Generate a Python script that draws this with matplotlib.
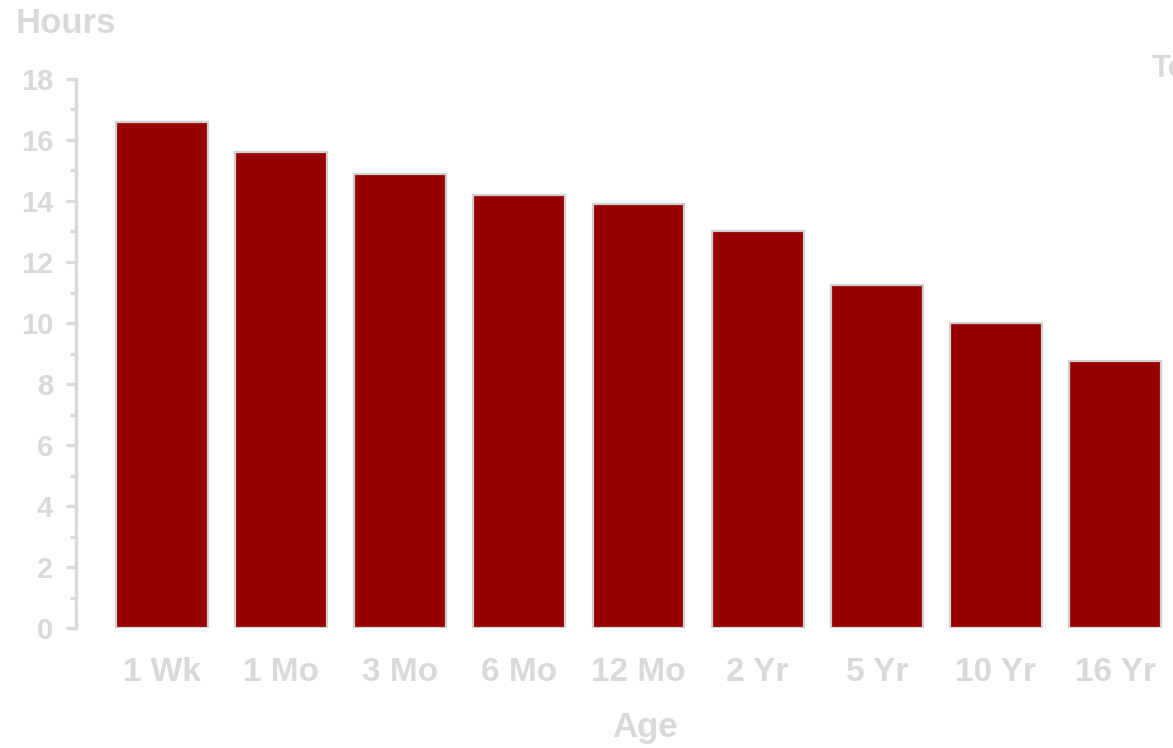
import matplotlib.pyplot as plt
from matplotlib.ticker import MultipleLocator

ages = ["1 Wk", "1 Mo", "3 Mo", "6 Mo", "12 Mo", "2 Yr", "5 Yr", "10 Yr", "16 Yr"]
hours = [16.6, 15.6, 14.9, 14.2, 13.9, 13.0, 11.25, 10.0, 8.75]

grey = "#d9d9d9"
plt.rcParams["font.family"] = ["Liberation Sans Narrow", "Liberation Sans", "DejaVu Sans"]
plt.rcParams["font.weight"] = "bold"

fig = plt.figure(figsize=(11.73, 7.48), dpi=100)
ax = fig.add_axes([0.0648, 0.1604, 0.959, 0.734])

x = list(range(len(ages)))
ax.bar(x, hours, width=0.77, color="#990000", edgecolor="#d0d0d0", linewidth=1.6)

ax.set_xlim(-0.72, 8.72)
ax.set_ylim(0, 18)
ax.yaxis.set_major_locator(MultipleLocator(2))
ax.yaxis.set_minor_locator(MultipleLocator(1))

for side in ["top", "right", "bottom"]:
    ax.spines[side].set_visible(False)
ax.spines["left"].set_color(grey)
ax.spines["left"].set_linewidth(2.4)

ax.tick_params(axis="y", which="major", length=7.5, width=2.4, color=grey,
               labelcolor=grey, labelsize=21, pad=9)
ax.tick_params(axis="y", which="minor", length=4, width=2.4, color=grey)
ax.set_xticks(x)
ax.set_xticklabels(ages)
ax.tick_params(axis="x", length=0, labelcolor=grey, labelsize=24, pad=21)

fig.text(0.013, 0.968, "Hours", color=grey, fontsize=25, fontweight="bold",
         ha="left", va="center")
fig.text(0.55, 0.027, "Age", color=grey, fontsize=25, fontweight="bold",
         ha="center", va="center")
fig.text(0.982, 0.908, "Total", color=grey, fontsize=22, fontweight="bold",
         ha="left", va="center")

fig.savefig("out.png", dpi=100)
